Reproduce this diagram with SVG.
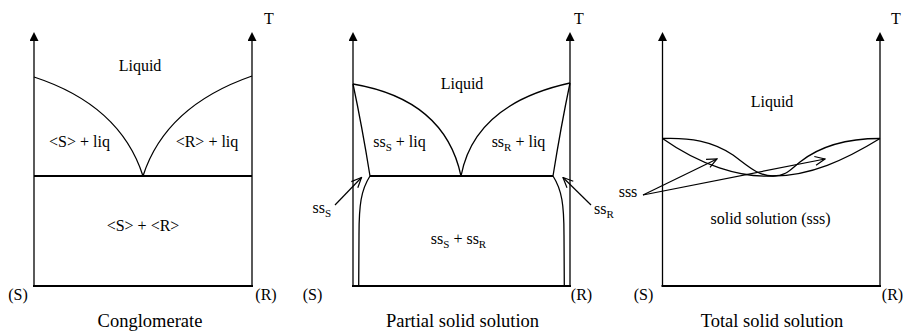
<svg xmlns="http://www.w3.org/2000/svg" width="906" height="334" viewBox="0 0 906 334">
  <style>
    text { font-family: "Liberation Serif", "Times New Roman", serif; fill: #000; }
    .lbl { font-size: 16px; text-anchor: middle; }
    .cap { font-size: 18.5px; text-anchor: middle; }
    .sub { font-size: 11px; }
    .axis { stroke: #000; stroke-width: 1.3; fill: none; marker-end: url(#tri); }
    .base { stroke: #000; stroke-width: 2.2; fill: none; }
    .curve { stroke: #000; stroke-width: 1.3; fill: none; }
    .ptr { stroke: #000; stroke-width: 1.2; fill: none; marker-end: url(#open); }
  </style>
  <defs>
    <marker id="tri" viewBox="0 0 10 10" refX="0" refY="5" markerWidth="10" markerHeight="9" markerUnits="userSpaceOnUse" orient="auto">
      <path d="M0,0 L10,5 L0,10 z" fill="#000"/>
    </marker>
    <marker id="open" viewBox="-11 -6 12 12" refX="0" refY="0" markerWidth="12" markerHeight="12" markerUnits="userSpaceOnUse" orient="auto">
      <path d="M-10,-4.5 L0,0 L-10,4.5" fill="none" stroke="#000" stroke-width="1.2"/>
    </marker>
  </defs>

  <!-- Panel 1: Conglomerate -->
  <g id="conglomerate">
    <line class="axis" x1="34" y1="286" x2="34" y2="41"/>
    <line class="axis" x1="252" y1="286" x2="252" y2="41"/>
    <line class="base" x1="33" y1="286" x2="253" y2="286"/>
    <line class="base" x1="34" y1="176" x2="252" y2="176"/>
    <path class="curve" d="M34,77 C80,92 125,120 143,176"/>
    <path class="curve" d="M143,176 C161,120 206,92 252,76"/>
    <text class="lbl" x="269" y="24">T</text>
    <text class="lbl" x="140" y="71">Liquid</text>
    <text class="lbl" x="79.5" y="147">&lt;S&gt; + liq</text>
    <text class="lbl" x="207" y="147">&lt;R&gt; + liq</text>
    <text class="lbl" x="143" y="231">&lt;S&gt; + &lt;R&gt;</text>
    <text class="lbl" x="18" y="300">(S)</text>
    <text class="lbl" x="266" y="300">(R)</text>
    <text class="cap" x="150" y="327">Conglomerate</text>
  </g>

  <!-- Panel 2: Partial solid solution -->
  <g id="partial">
    <line class="axis" x1="353" y1="286" x2="353" y2="41"/>
    <line class="axis" x1="570" y1="286" x2="570" y2="41"/>
    <line class="base" x1="352" y1="286" x2="571" y2="286"/>
    <line class="base" x1="370" y1="176" x2="553" y2="176"/>
    <path class="curve" d="M353,84 C400,92 448,115 461,176"/>
    <path class="curve" d="M461,176 C472,118 520,94 570,83"/>
    <path class="curve" d="M353,84 Q362,126 370,176"/>
    <path class="curve" d="M570,83 Q561,126 553,176"/>
    <path class="curve" d="M370,176 C361,190 359,205 359,235 L358.7,286"/>
    <path class="curve" d="M553,176 C562,190 564,205 564,235 L564.3,286"/>
    <path class="ptr" d="M335,205 L361.5,177.5"/>
    <path class="ptr" d="M591,205 L563,177.5"/>
    <text class="lbl" x="574" y="24" text-anchor="start" style="text-anchor:start">T</text>
    <text class="lbl" x="462" y="89">Liquid</text>
    <text class="lbl" x="399.5" y="147">ss<tspan class="sub" dy="4">S</tspan><tspan dy="-4"> + liq</tspan></text>
    <text class="lbl" x="518.5" y="147">ss<tspan class="sub" dy="4">R</tspan><tspan dy="-4"> + liq</tspan></text>
    <text class="lbl" x="458.5" y="244">ss<tspan class="sub" dy="4">S</tspan><tspan dy="-4"> + ss</tspan><tspan class="sub" dy="4">R</tspan></text>
    <text class="lbl" x="312.5" y="212.5" style="text-anchor:start">ss<tspan class="sub" dy="4">S</tspan></text>
    <text class="lbl" x="594" y="213.5" style="text-anchor:start">ss<tspan class="sub" dy="4">R</tspan></text>
    <text class="lbl" x="312.5" y="300">(S)</text>
    <text class="lbl" x="581.5" y="300">(R)</text>
    <text class="cap" x="462.5" y="327">Partial solid solution</text>
  </g>

  <!-- Panel 3: Total solid solution -->
  <g id="total">
    <line class="axis" x1="662.5" y1="286" x2="662.5" y2="41"/>
    <line class="axis" x1="880" y1="286" x2="880" y2="41"/>
    <line class="base" x1="661.5" y1="286" x2="881" y2="286"/>
    <path class="curve" d="M662.5,138.5 C700,165 740,178 773,176 C810,176 845,160 880,138.5"/>
    <path class="curve" d="M662.5,138.5 C690,137.5 712,141 733,155 C748,166 758,176 773,176 C786,176 790,170 800,162 C815,150 840,138.5 880,138.5"/>
    <path class="ptr" d="M643,195 L717,159"/>
    <path class="ptr" d="M643,195 L825,159"/>
    <text class="lbl" x="896" y="24">T</text>
    <text class="lbl" x="772" y="107">Liquid</text>
    <text class="lbl" x="628" y="197">sss</text>
    <text class="lbl" x="770.5" y="224">solid solution (sss)</text>
    <text class="lbl" x="643.5" y="300">(S)</text>
    <text class="lbl" x="892.5" y="300">(R)</text>
    <text class="cap" x="772" y="327">Total solid solution</text>
  </g>
</svg>
